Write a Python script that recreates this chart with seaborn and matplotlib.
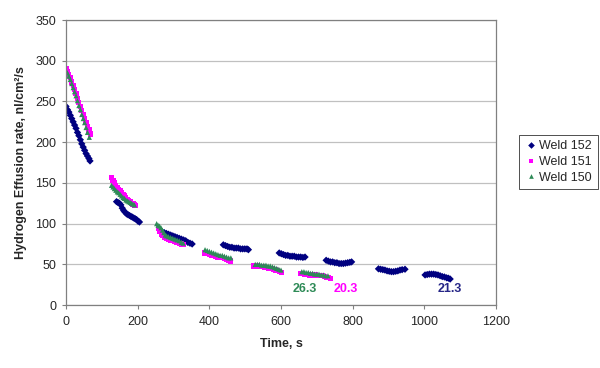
import pandas as pd
import matplotlib
matplotlib.use("Agg")
import matplotlib.pyplot as plt
import seaborn as sns

# Weld 152 (navy diamonds)
t152 = [0, 4, 8, 12, 16, 20, 24, 28, 32, 36, 40, 44, 48, 52, 56, 60, 64, 67,
        141, 145, 149, 153, 157, 161, 165, 169, 173, 177, 181, 185, 189, 193, 197, 201, 205,
        268, 274, 280, 286, 292, 298, 304, 310, 316, 322, 328, 334, 340, 346, 352,
        439, 445, 451, 457, 463, 469, 475, 481, 487, 493, 499, 505, 509,
        595, 601, 607, 613, 619, 625, 631, 637, 643, 649, 655, 661, 667,
        726, 732, 738, 744, 750, 756, 762, 768, 774, 780, 786, 792, 797,
        872, 878, 884, 890, 896, 902, 908, 914, 920, 926, 932, 938, 946,
        1002, 1008, 1014, 1020, 1026, 1032, 1038, 1044, 1050, 1056, 1062, 1067, 1072]
r152 = [244, 240, 237, 233, 229, 225, 221, 217, 212, 208, 203, 198, 194, 190, 186, 183, 180, 177,
        127, 126, 125, 123, 119, 116, 114, 112, 111, 110, 109, 108, 107, 106, 105, 103, 102,
        90, 89, 88, 87, 86, 85, 84, 83, 82, 81, 80, 79, 77, 76, 75,
        74, 73, 72, 71, 71, 70, 70, 70, 69, 69, 69, 69, 68,
        64, 63, 62, 61, 61, 60, 60, 60, 59, 59, 59, 58.5, 59,
        55, 54, 53, 53, 52, 52, 51, 51, 51, 51.5, 52, 52.5, 53,
        44.5, 44, 43.5, 43, 42, 41.5, 41, 41, 41.5, 42, 43, 43.5, 44,
        37, 37.5, 38, 38, 38, 37.5, 37, 36, 35, 34.5, 33.5, 33, 32]

# Weld 151 (magenta squares)
t151 = [0, 4, 8, 12, 16, 20, 24, 28, 32, 36, 40, 44, 48, 52, 56, 60, 64, 69,
        127, 131, 135, 139, 143, 147, 151, 155, 159, 163, 167, 171, 175, 179, 183, 187, 191, 195,
        258, 262, 266, 270, 274, 280, 286, 292, 298, 304, 310, 316, 322, 327,
        388, 394, 400, 406, 412, 418, 424, 430, 436, 442, 448, 454, 460,
        524, 530, 536, 542, 548, 554, 560, 566, 572, 578, 584, 590, 596, 602,
        655, 661, 667, 673, 679, 685, 691, 697, 703, 709, 715, 721, 727, 733, 739]
r151 = [290, 287, 283, 279, 274, 270, 265, 260, 254, 249, 244, 239, 234, 229, 224, 219, 215, 210,
        157, 153, 150, 147, 144, 142, 140, 138, 136, 134, 132, 130, 128, 127, 125, 124, 123, 122,
        94, 90, 87, 85, 83, 82, 81, 80, 79, 78, 77, 76, 75, 74,
        64, 63, 62, 61, 61, 60, 59, 58, 58, 57, 56, 55, 54,
        48, 48, 47, 47, 47, 46, 46, 45, 45, 44, 43, 42, 41, 40,
        39, 39, 38, 38, 37, 37, 37, 37, 36, 36, 36, 35, 34, 34, 33]

# Weld 150 (green triangles)
t150 = [0, 4, 8, 12, 16, 20, 24, 28, 32, 36, 40, 44, 48, 52, 56, 60, 65,
        127, 131, 135, 139, 143, 147, 151, 155, 159, 163, 167, 171, 175, 179, 183, 187, 191,
        253, 257, 261, 265, 269, 273, 277, 281, 286, 292, 298, 304, 310, 316, 322, 327,
        388, 394, 400, 406, 412, 418, 424, 430, 436, 442, 448, 454, 460,
        528, 534, 540, 546, 552, 558, 564, 570, 576, 582, 588, 594, 600,
        658, 664, 670, 676, 682, 688, 694, 700, 706, 712, 718, 724, 731]
r150 = [288, 285, 281, 277, 272, 267, 262, 257, 251, 245, 240, 234, 229, 224, 218, 212, 206,
        147, 145, 143, 141, 139, 138, 136, 134, 132, 131, 129, 128, 127, 126, 125, 124, 123,
        100, 98, 97, 95, 92, 89, 86, 85, 84, 83, 82, 81, 80, 79, 77, 76,
        68, 67, 66, 65, 64, 63, 62, 61, 61, 60, 59, 58, 58,
        50, 50, 50, 49, 49, 49, 48, 48, 47, 46, 45, 44, 43,
        41, 41, 40, 40, 39, 39, 38, 38, 38, 37, 37, 36, 36]

welds = ["Weld 152", "Weld 151", "Weld 150"]
colors = {"Weld 152": "#000080", "Weld 151": "#FF00FF", "Weld 150": "#2E8B57"}
markers = {"Weld 152": "D", "Weld 151": "s", "Weld 150": "^"}

# final values written on the chart
notes = ["26.3", "20.3", "21.3"]
note_x = [667, 780, 1070]
note_y = [19.5, 19.5, 19.5]
note_colors = ["#2E8B57", "#FF00FF", "#262687"]

df = pd.concat([
    pd.DataFrame({"Time": t152, "Rate": r152, "Weld": "Weld 152"}),
    pd.DataFrame({"Time": t151, "Rate": r151, "Weld": "Weld 151"}),
    pd.DataFrame({"Time": t150, "Rate": r150, "Weld": "Weld 150"}),
], ignore_index=True)

sns.set_style("white")
plt.rcParams["font.family"] = ["Liberation Sans", "DejaVu Sans"]

fig = plt.figure(figsize=(6, 3.68), dpi=100)
ax = fig.add_axes([0.11, 0.171, 0.7167, 0.7745])

sns.scatterplot(data=df, x="Time", y="Rate", hue="Weld", style="Weld",
                hue_order=welds, style_order=welds, palette=colors, markers=markers,
                s=14, linewidth=0, ax=ax)

for txt, x, y, c in zip(notes, note_x, note_y, note_colors):
    ax.text(x, y, txt, color=c, fontsize=9, fontweight="bold", ha="center", va="center")

ax.set_xlim(0, 1200)
ax.set_ylim(0, 350)
ax.set_xticks(range(0, 1201, 200))
ax.set_yticks(range(0, 351, 50))
ax.yaxis.grid(True, color="#c0c0c0", linewidth=0.9)
ax.set_axisbelow(True)
for sp in ax.spines.values():
    sp.set_color("#808080")
    sp.set_linewidth(0.9)
ax.tick_params(axis="both", labelsize=9, direction="out", length=3,
               color="#808080", width=0.8, bottom=True, left=True)
ax.tick_params(axis="x", pad=5)
ax.tick_params(axis="y", pad=4)
ax.set_xlabel("Time, s", fontsize=9, fontweight="bold", labelpad=7)
ax.set_ylabel("Hydrogen Effusion rate, nl/cm²/s", fontsize=9, fontweight="bold", labelpad=6)

leg = ax.legend(loc="center left", bbox_to_anchor=(1.053, 0.502), borderaxespad=0,
                fontsize=9, frameon=True, fancybox=False, edgecolor="#000000",
                handletextpad=0.2, borderpad=0.45, labelspacing=0.3,
                markerscale=0.9, handlelength=1.0)
leg.get_frame().set_linewidth(0.6)

fig.savefig("out.png", dpi=100)
